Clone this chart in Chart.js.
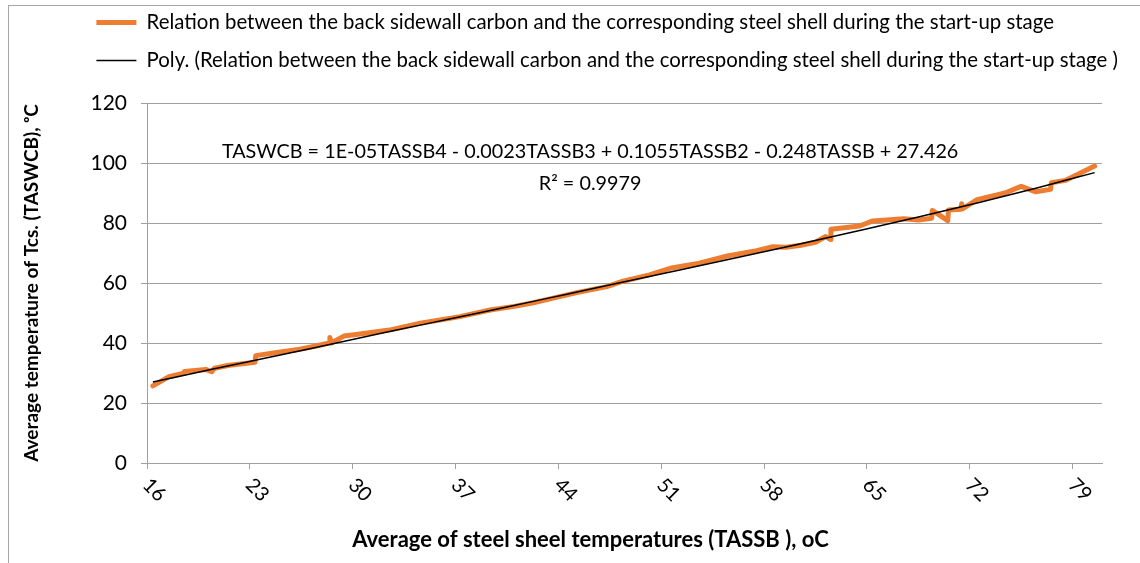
<!DOCTYPE html>
<html>
<head>
<meta charset="utf-8">
<script src="https://cdn.jsdelivr.net/npm/chart.js@4.4.1/dist/chart.umd.min.js"></script>
<style>
  html, body { margin: 0; padding: 0; background: #fff; }
  #wrap { position: relative; width: 1140px; height: 563px; overflow: hidden; }
  #frame { position: absolute; left: 8px; top: 5px; width: 1200px; height: 700px; border: 1px solid #a6a6a6; }
  canvas { position: absolute; left: 0; top: 0; }
</style>
</head>
<body>
<div id="wrap">
  <div id="frame"></div>
  <canvas id="chart" width="1140" height="563"></canvas>
</div>
<script>
// average steel shell temperature (TASSB) and back sidewall carbon temperature (TASWCB)
const steelTemps = [15.9, 17.0, 18.0, 18.05, 19.5, 19.9, 20.1, 21.0, 22.85, 22.9, 24.0, 25.9, 27.0, 27.9, 27.95, 28.05, 28.9, 30.0, 32.0, 34.1,
  36.8, 38.85, 40.5, 41.8, 43.0, 44.75, 46.8, 47.9, 49.7, 51.1, 53.1, 55.0, 57.0, 58.1, 59.0, 60.0, 61.0, 61.7, 62.0, 62.05,
  64.0, 64.9, 67.0, 68.0, 68.9, 68.95, 70.0, 70.05, 70.9, 70.95, 71.0, 72.0, 73.9, 75.0, 76.0, 77.0, 77.05, 78.0, 80.0];
const carbonTemps = [25.7, 28.8, 29.9, 30.5, 31.2, 30.4, 31.6, 32.5, 33.6, 35.8, 36.6, 37.9, 39.0, 40.0, 41.8, 40.0, 42.3, 43.0, 44.3, 46.6,
  48.8, 51.0, 52.2, 53.4, 54.8, 56.8, 58.8, 60.6, 62.7, 64.9, 66.6, 69.0, 70.8, 72.1, 71.9, 72.6, 73.6, 75.5, 74.5, 77.9,
  79.0, 80.7, 81.4, 81.0, 81.6, 84.2, 80.8, 84.3, 84.6, 86.4, 84.7, 87.8, 90.0, 92.2, 90.4, 91.2, 93.4, 94.2, 99.0];

// polynomial trendline
const trendX = [15.9, 20, 24, 28, 32, 36, 40, 44, 48, 52, 56, 60, 64, 68, 72, 76, 80];
const trendY = [27.0, 31.3, 35.4, 39.6, 43.8, 47.9, 52.0, 56.2, 60.4, 64.6, 68.8, 73.1, 77.5, 82.0, 86.7, 91.6, 96.8];

const xTickLabels = [16, 23, 30, 37, 44, 51, 58, 65, 72, 79];
const yTicks = [0, 20, 40, 60, 80, 100, 120];

const seriesName = "Relation between the back sidewall carbon and the corresponding steel shell during the start-up stage";
const trendName = "Poly. (Relation between the back sidewall carbon and the corresponding steel shell during the start-up stage )";
const equationText = "TASWCB = 1E-05TASSB4 - 0.0023TASSB3 + 0.1055TASSB2 - 0.248TASSB + 27.426";
const rSquaredText = "R² = 0.9979";
const xTitle = "Average of steel sheel temperatures (TASSB ), oC";
const yTitle = "Average temperature of Tcs. (TASWCB), ᵒC";

const FONT = "Lato";
const gridColor = "#a0a0a0";

const layoutFix = {
  id: "layoutFix",
  afterLayout(chart) {
    // Excel puts the legend block flush left above the plot, wider than the plot
    const legend = chart.legend;
    legend.left = 78.8;
    legend.top = -5.4;
    legend.right = 1140;
  }
};

const extraText = {
  id: "extraText",
  afterDraw(chart) {
    const { ctx } = chart;
    const x = chart.scales.x;
    const y = chart.scales.y;
    ctx.save();
    ctx.fillStyle = "#000";
    ctx.textAlign = "center";
    ctx.textBaseline = "middle";
    ctx.font = "20px " + FONT;
    xTickLabels.forEach((v) => {
      ctx.save();
      ctx.translate(x.getPixelForValue(v), y.bottom + 27);
      ctx.rotate(Math.PI / 4);
      ctx.fillText(String(v), 0, 0);
      ctx.restore();
    });
    ctx.font = "19.8px " + FONT;
    ctx.fillText(equationText, x.getPixelForValue(45.66), y.getPixelForValue(103.7));
    ctx.fillText(rSquaredText, x.getPixelForValue(45.66), y.getPixelForValue(93));
    // x axis title sits a little left of the plot centre in the original
    ctx.font = "bold 22px " + FONT;
    ctx.fillText(xTitle, (x.left + x.right) / 2 - 34, y.bottom + 77);
    ctx.restore();
  }
};

const ctx = document.getElementById("chart").getContext("2d");

new Chart(ctx, {
  type: "line",
  data: {
    datasets: [
      {
        label: seriesName,
        data: steelTemps.map((t, i) => ({ x: t, y: carbonTemps[i] })),
        borderColor: "#ED7D31",
        backgroundColor: "#ED7D31",
        borderWidth: 5,
        borderJoinStyle: "round",
        borderCapStyle: "round",
        pointRadius: 0,
        tension: 0,
        order: 1
      },
      {
        label: trendName,
        data: trendX.map((t, i) => ({ x: t, y: trendY[i] })),
        borderColor: "#000",
        backgroundColor: "#000",
        borderWidth: 1.5,
        pointRadius: 0,
        cubicInterpolationMode: "monotone",
        order: 0
      }
    ]
  },
  options: {
    responsive: false,
    animation: false,
    layout: { padding: { left: 8, top: 17, right: 38, bottom: 0 } },
    plugins: {
      tooltip: { enabled: false },
      legend: {
        position: "top",
        align: "start",
        labels: {
          usePointStyle: true,
          pointStyle: "line",
          pointStyleWidth: 40,
          padding: 17.6,
          color: "#000",
          font: { family: FONT, size: 20.4 },
          sort: (a, b) => a.datasetIndex - b.datasetIndex
        }
      }
    },
    scales: {
      x: {
        type: "linear",
        min: 15.5,
        max: 80.5,
        afterBuildTicks: (scale) => {
          scale.ticks = xTickLabels.map((v) => ({ value: v - 0.5 }));
        },
        afterFit: (scale) => { scale.height = 100; },
        ticks: { display: false },
        grid: { drawOnChartArea: false, tickLength: 6, color: gridColor },
        border: { color: gridColor }
      },
      y: {
        min: 0,
        max: 120,
        afterBuildTicks: (scale) => {
          scale.ticks = yTicks.map((v) => ({ value: v }));
        },
        afterFit: (scale) => { scale.width = 139; },
        ticks: {
          color: "#000",
          padding: 14,
          font: { family: FONT, size: 21 }
        },
        grid: { color: gridColor, tickLength: 6 },
        border: { color: gridColor },
        title: {
          display: true,
          text: yTitle,
          color: "#000",
          font: { family: FONT, size: 19, weight: "bold" },
          padding: { top: 12, bottom: 0 }
        }
      }
    }
  },
  plugins: [layoutFix, extraText]
});
</script>
</body>
</html>
